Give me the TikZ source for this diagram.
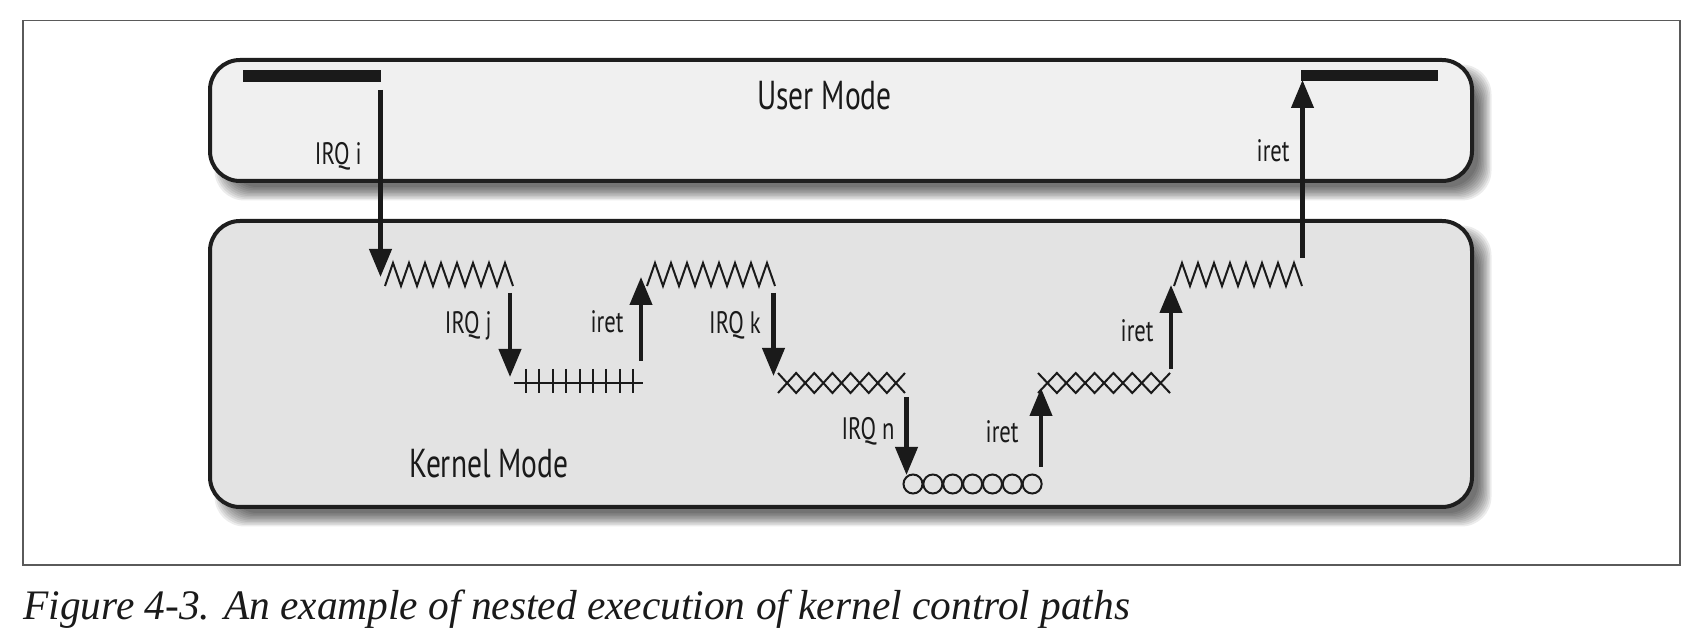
\documentclass[tikz,border=0pt]{standalone}
\usepackage{fontspec}
\usetikzlibrary{arrows.meta}
\newfontfamily\labfont{PT Sans}[FakeStretch=0.73]
\newfontfamily\capfont{Liberation Serif}[FakeStretch=0.985]
\definecolor{userfill}{HTML}{F0F0F0}
\definecolor{kernfill}{HTML}{E3E3E3}
\definecolor{boxline}{HTML}{1E1E1E}
\definecolor{ink}{HTML}{1A1A1A}
\definecolor{framecol}{HTML}{5A5A5A}
\tikzset{
  modebox/.style={rectangle, draw=boxline, line width=2pt, rounded corners=15pt, inner sep=0pt},
  conn/.style={line width=2.1pt, draw=ink, -{Triangle[width=11pt,length=14pt]}},
  pat/.style={line width=1pt, draw=ink, line join=miter},
  lab/.style={font=\labfont\fontsize{15.5}{18}\selectfont, inner sep=0pt, text=ink},
  modelab/.style={font=\labfont\fontsize{20.2}{24}\selectfont, inner sep=0pt, text=ink},
  bar/.style={fill=ink, draw=none}
}
\begin{document}
\begin{tikzpicture}[x=0.5pt,y=-0.5pt]
\useasboundingbox (0,0) rectangle (1708,640);
\fill[white] (0,0) rectangle (1708,640);
% outer frame
\draw[framecol, line width=0.75pt] (23,20.7) rectangle (1680,565);
% shadows
\foreach \e in {-6,-4.5,...,7.5} {
  \fill[black, opacity=0.075, rounded corners=15pt] (222-\e,72-\e) rectangle (1484+\e,193+\e);
  \fill[black, opacity=0.075, rounded corners=15pt] (222-\e,233-\e) rectangle (1484+\e,519+\e);
}
% boxes
\node[modebox, fill=userfill, minimum width=631pt, minimum height=60.5pt] (user) at (841,120.5) {};
\node[modebox, fill=kernfill, minimum width=631pt, minimum height=143pt] (kernel) at (841,364) {};
\node[modelab, anchor=base] (userlab) at (824.5,110) {User Mode};
\node[modelab, anchor=base west] (kernlab) at (409,478) {Kernel Mode};
% start / end bars
\fill[bar] (243,70) rectangle (381,82);
\fill[bar] (1301,70) rectangle (1438,81.5);
% zigzags
\draw[pat] (385,286) \foreach \k in {0,...,7} { -- ++(8,-23) -- ++(8,23) };
\draw[pat] (647,286) \foreach \k in {0,...,7} { -- ++(8,-23) -- ++(8,23) };
\draw[pat] (1174,286) \foreach \k in {0,...,7} { -- ++(8,-23) -- ++(8,23) };
% hatched line
\draw[pat] (514,383) -- (643,383);
\foreach \k in {0,...,8} \draw[pat] (526+13.4*\k,369) -- (526+13.4*\k,393);
% crossed lines
\draw[pat] (778,373) \foreach \k in {0,1,2} { -- ++(18.14,20) -- ++(18.14,-20) } -- ++(18.14,20);
\draw[pat] (778,393) \foreach \k in {0,1,2} { -- ++(18.14,-20) -- ++(18.14,20) } -- ++(18.14,-20);
\draw[pat] (1038,373) \foreach \k in {0,1,2} { -- ++(18.86,20) -- ++(18.86,-20) } -- ++(18.86,20);
\draw[pat] (1038,393) \foreach \k in {0,1,2} { -- ++(18.86,-20) -- ++(18.86,20) } -- ++(18.86,-20);
% circles
\foreach \k in {0,...,6} \draw[pat] (913+19.86*\k,484) circle[radius=4.75pt];
% connector coordinates
\coordinate (i0) at (380.5,90);   \coordinate (i1) at (380.5,277);
\coordinate (j0) at (510,293);    \coordinate (j1) at (510,377);
\coordinate (rj0) at (641,361);   \coordinate (rj1) at (641,277);
\coordinate (k0) at (773.5,293);  \coordinate (k1) at (773.5,376);
\coordinate (n0) at (906.5,397);  \coordinate (n1) at (906.5,475);
\coordinate (rn0) at (1041,467);  \coordinate (rn1) at (1041,388);
\coordinate (rk0) at (1171,369);  \coordinate (rk1) at (1171,285);
\coordinate (ri0) at (1302.5,258);\coordinate (ri1) at (1302.5,80);
\draw[conn] (i0) -- (i1);
\draw[conn] (j0) -- (j1);
\draw[conn] (rj0) -- (rj1);
\draw[conn] (k0) -- (k1);
\draw[conn] (n0) -- (n1);
\draw[conn] (rn0) -- (rn1);
\draw[conn] (rk0) -- (rk1);
\draw[conn] (ri0) -- (ri1);
% labels
\node[lab, anchor=base east] (li) at (362,165) {IRQ i};
\node[lab, anchor=base east] (lri) at (1290,162) {iret};
\node[lab, anchor=base east] (lj) at (492,334) {IRQ j};
\node[lab, anchor=base east] (lrj) at (624,333) {iret};
\node[lab, anchor=base east] (lk) at (761,334) {IRQ k};
\node[lab, anchor=base east] (ln) at (895,440) {IRQ n};
\node[lab, anchor=base east] (lrn) at (1019,443) {iret};
\node[lab, anchor=base east] (lrk) at (1154,341.5) {iret};
% caption
\node[anchor=base west, inner sep=0pt, font=\capfont\itshape\fontsize{21}{25}\selectfont, text=ink] (cap) at (23,620) {Figure 4-3. An example of nested execution of kernel control paths};
\end{tikzpicture}
\end{document}
